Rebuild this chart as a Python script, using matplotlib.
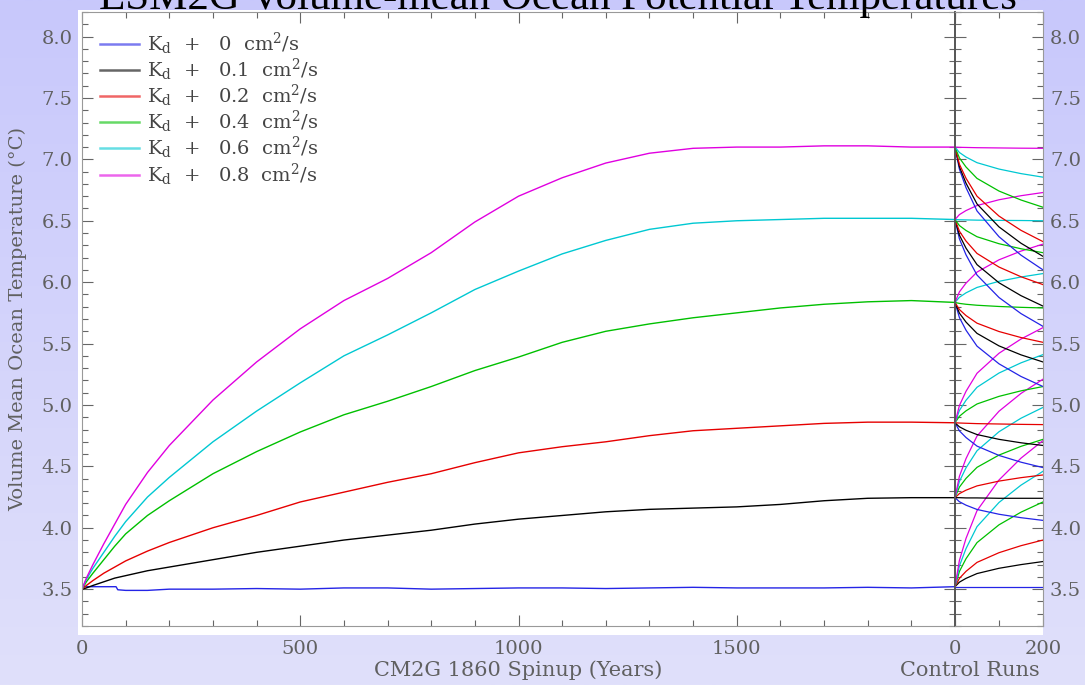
import numpy as np
import matplotlib
matplotlib.use("Agg")
import matplotlib.pyplot as plt
from matplotlib.ticker import MultipleLocator, FixedLocator
from matplotlib.patches import Rectangle

plt.rcParams['font.family'] = ['DejaVu Serif']
plt.rcParams['mathtext.fontset'] = 'dejavuserif'

W, H = 1085, 685

# spinup runs (years, deg C)
sp_years = [0, 10, 25, 50, 75, 100, 150, 200, 300, 400, 500, 600, 700, 800, 900,
            1000, 1100, 1200, 1300, 1400, 1500, 1600, 1700, 1800, 1900, 2000]
sp0_years = [0, 78, 82, 100, 150, 200, 300, 400, 500, 600, 700, 800, 900,
             1000, 1100, 1200, 1300, 1400, 1500, 1600, 1700, 1800, 1900, 2000]
sp_kd0 = [3.52, 3.52, 3.495, 3.49, 3.49, 3.50, 3.50, 3.505, 3.50, 3.51, 3.51, 3.50,
          3.505, 3.51, 3.51, 3.505, 3.51, 3.515, 3.51, 3.51, 3.51, 3.515, 3.51, 3.52]
sp_kd01 = [3.50, 3.51, 3.53, 3.56, 3.59, 3.61, 3.65, 3.68, 3.74, 3.80, 3.85, 3.90, 3.94,
           3.98, 4.03, 4.07, 4.10, 4.13, 4.15, 4.16, 4.17, 4.19, 4.22, 4.24, 4.245, 4.245]
sp_kd02 = [3.50, 3.53, 3.57, 3.63, 3.68, 3.73, 3.81, 3.88, 4.00, 4.10, 4.21, 4.29, 4.37,
           4.44, 4.53, 4.61, 4.66, 4.70, 4.75, 4.79, 4.81, 4.83, 4.85, 4.86, 4.86, 4.855]
sp_kd04 = [3.50, 3.56, 3.63, 3.74, 3.85, 3.95, 4.10, 4.22, 4.44, 4.62, 4.78, 4.92, 5.03,
           5.15, 5.28, 5.39, 5.51, 5.60, 5.66, 5.71, 5.75, 5.79, 5.82, 5.84, 5.85, 5.835]
sp_kd06 = [3.50, 3.58, 3.67, 3.80, 3.93, 4.05, 4.25, 4.41, 4.70, 4.95, 5.18, 5.40, 5.57,
           5.75, 5.94, 6.09, 6.23, 6.34, 6.43, 6.48, 6.50, 6.51, 6.52, 6.52, 6.52, 6.51]
sp_kd08 = [3.50, 3.59, 3.70, 3.87, 4.03, 4.19, 4.45, 4.67, 5.04, 5.35, 5.62, 5.85, 6.03,
           6.24, 6.49, 6.70, 6.85, 6.97, 7.05, 7.09, 7.10, 7.10, 7.11, 7.11, 7.10, 7.10]

# control runs: from each spinup end state, one run per Kd (0, .1, .2, .4, .6, .8)
ctrl_years = [0, 10, 25, 50, 100, 150, 200]
ctrl_from_kd0 = [
    [3.52, 3.52, 3.52, 3.52, 3.52, 3.52, 3.52],
    [3.52, 3.557, 3.588, 3.627, 3.670, 3.700, 3.725],
    [3.52, 3.588, 3.645, 3.718, 3.797, 3.854, 3.90],
    [3.52, 3.644, 3.748, 3.879, 4.024, 4.127, 4.21],
    [3.52, 3.689, 3.830, 4.009, 4.206, 4.347, 4.46],
    [3.52, 3.734, 3.913, 4.139, 4.389, 4.567, 4.71],
]
ctrl_from_kd01 = [
    [4.245, 4.212, 4.184, 4.149, 4.110, 4.082, 4.06],
    [4.245, 4.245, 4.243, 4.243, 4.24, 4.24, 4.24],
    [4.245, 4.278, 4.306, 4.341, 4.380, 4.408, 4.43],
    [4.245, 4.331, 4.402, 4.492, 4.592, 4.663, 4.72],
    [4.245, 4.377, 4.488, 4.627, 4.782, 4.892, 4.98],
    [4.245, 4.419, 4.563, 4.747, 4.949, 5.094, 5.21],
]
ctrl_from_kd02 = [
    [4.855, 4.789, 4.735, 4.665, 4.589, 4.534, 4.49],
    [4.855, 4.822, 4.794, 4.759, 4.720, 4.692, 4.67],
    [4.855, 4.853, 4.851, 4.848, 4.845, 4.842, 4.84],
    [4.855, 4.908, 4.952, 5.008, 5.070, 5.115, 5.15],
    [4.855, 4.955, 5.038, 5.144, 5.260, 5.343, 5.41],
    [4.855, 4.995, 5.111, 5.258, 5.421, 5.537, 5.63],
]
ctrl_from_kd04 = [
    [5.835, 5.712, 5.609, 5.479, 5.335, 5.232, 5.15],
    [5.835, 5.748, 5.675, 5.583, 5.481, 5.408, 5.35],
    [5.835, 5.777, 5.728, 5.666, 5.598, 5.549, 5.51],
    [5.835, 5.827, 5.820, 5.812, 5.802, 5.795, 5.79],
    [5.835, 5.877, 5.913, 5.957, 6.007, 6.042, 6.07],
    [5.835, 5.921, 5.992, 6.082, 6.182, 6.253, 6.31],
]
ctrl_from_kd06 = [
    [6.51, 6.353, 6.223, 6.058, 5.875, 5.744, 5.64],
    [6.51, 6.383, 6.277, 6.143, 5.995, 5.890, 5.805],
    [6.51, 6.415, 6.335, 6.234, 6.123, 6.044, 5.98],
    [6.51, 6.461, 6.421, 6.370, 6.313, 6.272, 6.24],
    [6.51, 6.508, 6.507, 6.505, 6.503, 6.502, 6.50],
    [6.51, 6.550, 6.583, 6.624, 6.671, 6.704, 6.73],
]
ctrl_from_kd08 = [
    [7.10, 6.92, 6.77, 6.58, 6.37, 6.22, 6.10],
    [7.10, 6.940, 6.806, 6.637, 6.450, 6.317, 6.21],
    [7.10, 6.961, 6.846, 6.700, 6.538, 6.422, 6.33],
    [7.10, 7.012, 6.938, 6.845, 6.742, 6.669, 6.61],
    [7.10, 7.056, 7.019, 6.973, 6.921, 6.884, 6.855],
    [7.10, 7.098, 7.097, 7.095, 7.093, 7.091, 7.09],
]

kd_values = ['0', '0.1', '0.2', '0.4', '0.6', '0.8']
colors = ['#2424e6', '#000000', '#e60000', '#00c000', '#00c8d2', '#e000e0']
txt_col = '#606060'

fig = plt.figure(figsize=(W / 100, H / 100), dpi=100)

# lavender gradient background
bg = fig.add_axes([0, 0, 1, 1], zorder=-3)
grad = np.linspace(0, 1, 256).reshape(-1, 1)
top = np.array([200, 200, 252]) / 255
bot = np.array([224, 224, 250]) / 255
img = top + grad[..., None] * (bot - top)
bg.imshow(img, aspect='auto', extent=[0, 1, 0, 1])
bg.axis('off')

fig.patches.append(Rectangle((78 / W, 1 - 635 / H), (1043 - 78) / W, (635 - 10) / H,
                             transform=fig.transFigure, facecolor='white',
                             edgecolor='none', zorder=-2))

ax1 = fig.add_axes([82 / W, 1 - 626 / H, (955 - 82) / W, (626 - 12) / H])
ax2 = fig.add_axes([955 / W, 1 - 626 / H, 88 / W, (626 - 12) / H])
for ax in (ax1, ax2):
    ax.set_facecolor('none')
    ax.set_ylim(3.2, 8.2)
    ax.yaxis.set_major_locator(MultipleLocator(0.5))
    ax.yaxis.set_minor_locator(MultipleLocator(0.1))
    ax.tick_params(which='both', direction='in', top=True, right=True,
                   colors='#666666', labelcolor=txt_col, labelsize=14)
    ax.tick_params(which='major', length=8, width=0.8)
    ax.tick_params(which='minor', length=4, width=0.8)
    for s in ax.spines.values():
        s.set_color('#999999')
        s.set_linewidth(0.8)

# spinup
def kd_label(k):
    return 'K$_\\mathrm{d}$  +   ' + k + '  cm$^2$/s'

ax1.plot(sp0_years, sp_kd0, color=colors[0], lw=1.0, label=kd_label(kd_values[0]))
for vals, c, k in zip([sp_kd01, sp_kd02, sp_kd04, sp_kd06, sp_kd08], colors[1:], kd_values[1:]):
    ax1.plot(sp_years, vals, color=c, lw=1.0, label=kd_label(k))
ax1.set_xlim(0, 2000)
ax1.xaxis.set_major_locator(FixedLocator([0, 500, 1000, 1500]))
ax1.xaxis.set_minor_locator(MultipleLocator(100))
ax1.tick_params(axis='x', pad=10)
ax1.tick_params(axis='y', pad=7)
ax1.set_ylabel('Volume Mean Ocean Temperature (°C)', color=txt_col, fontsize=14, labelpad=10)
ax1.set_xlabel('CM2G 1860 Spinup (Years)', color=txt_col, fontsize=15, labelpad=2)
ax1.tick_params(axis='y', labelright=False)

leg = ax1.legend(loc='upper left', frameon=False, fontsize=14, handlelength=2.0,
                 labelspacing=0.0, borderaxespad=0.55, handletextpad=0.4,
                 borderpad=0.4)
for t in leg.get_texts():
    t.set_color('#444444')
for h in leg.legend_handles:
    h.set_linewidth(1.8)
    h.set_alpha(0.6)

# control runs
for runs in [ctrl_from_kd0, ctrl_from_kd01, ctrl_from_kd02,
             ctrl_from_kd04, ctrl_from_kd06, ctrl_from_kd08]:
    for vals, c in zip(runs, colors):
        ax2.plot(ctrl_years, vals, color=c, lw=0.9)
ax2.set_xlim(0, 200)
ax2.xaxis.set_major_locator(FixedLocator([0, 200]))
ax2.xaxis.set_minor_locator(FixedLocator([100]))
ax2.tick_params(axis='x', pad=10)
ax2.tick_params(axis='y', labelleft=False, labelright=True, pad=5)
ax2.spines['left'].set_color('#555555')
ax2.spines['left'].set_linewidth(1.2)
ax1.spines['right'].set_color('#555555')
ax1.spines['right'].set_linewidth(1.2)

fig.text(970 / W, 1 - 670 / H, 'Control Runs', ha='center', va='center',
         color=txt_col, fontsize=15)
fig.text(558 / W, 1 - 9 / H, 'ESM2G Volume-mean Ocean Potential Temperatures',
         ha='center', va='baseline', fontsize=31, family='Liberation Serif', color='black')

fig.savefig('out.png', dpi=100)
